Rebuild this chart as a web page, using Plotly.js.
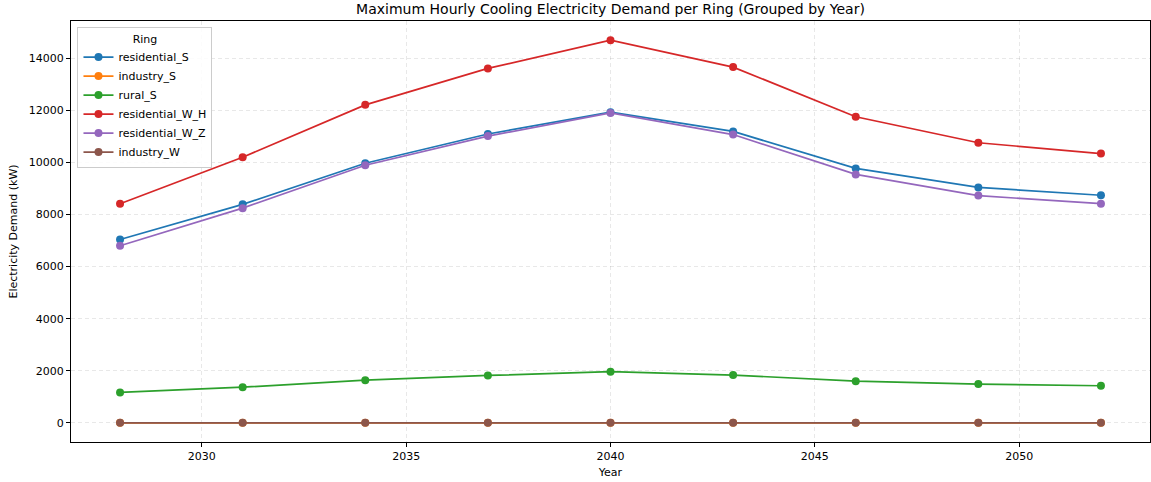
<!DOCTYPE html>
<html>
<head>
<meta charset="utf-8">
<script src="https://cdn.plot.ly/plotly-3.0.1.min.js"></script>
<style>html,body{margin:0;padding:0;background:#fff;}#chart{width:1151px;height:482px;}</style>
</head>
<body>
<div id="chart"></div>
<script>
const years = [2028, 2031, 2034, 2037, 2040, 2043, 2046, 2049, 2052];
const residential_S   = [7040, 8390, 9970, 11090, 11930, 11190, 9770, 9040, 8740];
const industry_S      = [0, 0, 0, 0, 0, 0, 0, 0, 0];
const rural_S         = [1170, 1370, 1640, 1820, 1965, 1835, 1600, 1490, 1425];
const residential_W_H = [8415, 10200, 12210, 13610, 14695, 13660, 11755, 10755, 10340];
const residential_W_Z = [6800, 8245, 9890, 11010, 11900, 11070, 9540, 8725, 8415];
const industry_W      = [0, 0, 0, 0, 0, 0, 0, 0, 0];

const seriesNames = ["residential_S", "industry_S", "rural_S", "residential_W_H", "residential_W_Z", "industry_W"];
const seriesData = [residential_S, industry_S, rural_S, residential_W_H, residential_W_Z, industry_W];
const colors = ["#1f77b4", "#ff7f0e", "#2ca02c", "#d62728", "#9467bd", "#8c564b"];

const traces = seriesNames.map((n, i) => ({
  x: years, y: seriesData[i], name: n, type: "scatter", mode: "lines+markers",
  line: {color: colors[i], width: 1.7},
  marker: {color: colors[i], size: 8}
}));

const font = {family: "DejaVu Sans, sans-serif", size: 11, color: "#000"};
const gridStyle = {showgrid: true, gridcolor: "rgba(0,0,0,0.09)", griddash: "4px,3px", gridwidth: 1};
const layout = {
  width: 1151, height: 482,
  margin: {l: 71, r: 1, t: 21, b: 40},
  paper_bgcolor: "#fff", plot_bgcolor: "#fff",
  font: font,
  title: {text: "Maximum Hourly Cooling Electricity Demand per Ring (Grouped by Year)", font: {family: "DejaVu Sans, sans-serif", size: 14, color: "#000"}, x: 0.5, xanchor: "center", y: 0.982, yanchor: "middle", xref: "paper"},
  xaxis: Object.assign({
    range: [2026.8, 2053.2], tickvals: [2030, 2035, 2040, 2045, 2050], ticktext: ["2030","2035","2040","2045","2050"],
    zeroline: false, showline: true, linecolor: "#000", linewidth: 1, mirror: true,
    ticks: "outside", ticklen: 4, tickcolor: "#000",
    title: {text: "Year", font: font, standoff: 6}
  }, gridStyle),
  yaxis: Object.assign({
    range: [-735, 15430], tickvals: [0, 2000, 4000, 6000, 8000, 10000, 12000, 14000],
    ticktext: ["0","2000","4000","6000","8000","10000","12000","14000"],
    zeroline: false, showline: true, linecolor: "#000", linewidth: 1, mirror: true,
    ticks: "outside", ticklen: 4, tickcolor: "#000",
    title: {text: "Electricity Demand (kW)", font: font, standoff: 8}
  }, gridStyle),
  showlegend: true,
  legend: {
    x: 0.006, y: 0.985, xanchor: "left", yanchor: "top",
    bgcolor: "rgba(255,255,255,0.85)", bordercolor: "#ccc", borderwidth: 1,
    font: font, title: {text: "Ring", side: "top center", font: font},
    tracegroupgap: 0, itemwidth: 30
  }
};
Plotly.newPlot("chart", traces, layout, {displayModeBar: false, staticPlot: true});
</script>
</body>
</html>
